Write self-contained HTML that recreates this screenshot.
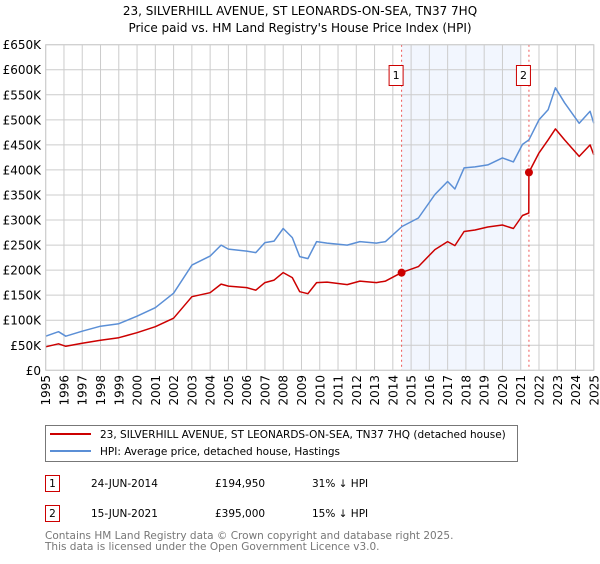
<!DOCTYPE html>
<html><head><meta charset="utf-8">
<style>
body{margin:0;background:#fff;font-family:"DejaVu Sans","Liberation Sans",sans-serif;}
svg text{font-family:"DejaVu Sans","Liberation Sans",sans-serif;}
</style></head>
<body>
<svg id="chart" width="600" height="560" xmlns="http://www.w3.org/2000/svg">
<text x="300" y="15" font-size="12" text-anchor="middle" fill="#000">23, SILVERHILL AVENUE, ST LEONARDS-ON-SEA, TN37 7HQ</text>
<text x="300" y="32" font-size="12" text-anchor="middle" fill="#000">Price paid vs. HM Land Registry's House Price Index (HPI)</text>
<g id="plot"></g>
<g>
<rect x="45.5" y="425.5" width="472" height="36" fill="#fff" stroke="#777"/>
<line x1="50" y1="434" x2="91" y2="434" stroke="#cc0000" stroke-width="2"/>
<text x="100" y="438" font-size="10.5">23, SILVERHILL AVENUE, ST LEONARDS-ON-SEA, TN37 7HQ (detached house)</text>
<line x1="50" y1="451" x2="91" y2="451" stroke="#5b8fd6" stroke-width="2"/>
<text x="100" y="455" font-size="10.5">HPI: Average price, detached house, Hastings</text>
</g>
<g font-size="10.5">
<rect x="45.5" y="475.5" width="14" height="16" fill="#fff" stroke="#cc0000"/>
<text x="52.5" y="487" text-anchor="middle">1</text>
<text x="91" y="487">24-JUN-2014</text>
<text x="215" y="487">£194,950</text>
<text x="312" y="487">31% ↓ HPI</text>
<rect x="45.5" y="505.5" width="14" height="16" fill="#fff" stroke="#cc0000"/>
<text x="52.5" y="517" text-anchor="middle">2</text>
<text x="91" y="517">15-JUN-2021</text>
<text x="215" y="517">£395,000</text>
<text x="312" y="517">15% ↓ HPI</text>
</g>
<text x="45" y="539" font-size="10.5" fill="#777">Contains HM Land Registry data © Crown copyright and database right 2025.</text>
<text x="45" y="550" font-size="10.5" fill="#777">This data is licensed under the Open Government Licence v3.0.</text>
</svg>
<script>
const yTicks=[0,50,100,150,200,250,300,350,400,450,500,550,600,650];
const yTickLabels=["£0","£50K","£100K","£150K","£200K","£250K","£300K","£350K","£400K","£450K","£500K","£550K","£600K","£650K"];
const xYears=[1995,1996,1997,1998,1999,2000,2001,2002,2003,2004,2005,2006,2007,2008,2009,2010,2011,2012,2013,2014,2015,2016,2017,2018,2019,2020,2021,2022,2023,2024,2025];
const hpiDates=[1995.0,1995.7,1996.1,1997,1998,1999,2000,2001,2002,2003,2004,2004.6,2005,2006,2006.5,2007,2007.5,2008.0,2008.5,2008.9,2009.35,2009.83,2010.4,2011.5,2012.2,2013.1,2013.6,2014.5,2015.4,2016.3,2017.0,2017.4,2017.9,2018.5,2019.2,2020.0,2020.6,2021.1,2021.45,2022.0,2022.5,2022.9,2023.4,2024.2,2024.8,2025.0];
const hpiValues=[68,77,68,78,88,93,108,125,154,210,228,250,242,238,235,255,258,283,265,227,223,257,254,250,257,254,257,287,304,351,377,362,404,406,410,424,416,451,460,500,520,564,534,493,517,493];
const propDates=[1995.0,1995.7,1996.1,1997,1998,1999,2000,2001,2002,2003,2004,2004.6,2005,2006,2006.5,2007,2007.5,2008.0,2008.5,2008.9,2009.35,2009.83,2010.4,2011.5,2012.2,2013.1,2013.6,2014.48,2015.4,2016.3,2017.0,2017.4,2017.9,2018.5,2019.2,2020.0,2020.6,2021.1,2021.44,2021.45,2022.0,2022.5,2022.9,2023.4,2024.2,2024.8,2025.0];
const propValues=[47,53,48,54,60,65,75,87,104,147,155,172,168,165,160,175,180,195,185,157,153,175,176,171,178,175,178,194.95,207,241,257,249,277,280,286,290,283,309,314,395,434,460,482,460,427,450,430];
const saleDates=[2014.48,2021.45];
const saleValues=[194.95,395];
const saleLabels=["1","2"];

const NS="http://www.w3.org/2000/svg";
const X0=45.7,X1=593.8,Y0=370.3,Y1=44.7;
function xs(t){return X0+(t-1995)/(2025-1995)*(X1-X0);}
function ys(v){return Y0-(v/650)*(Y0-Y1);}
const plot=document.getElementById('plot');
function mk(tag,attrs,parent){const e=document.createElementNS(NS,tag);for(const k in attrs)e.setAttribute(k,attrs[k]);(parent||plot).appendChild(e);return e;}

const shade=mk('rect',{x:xs(saleDates[0]),y:Y1,width:xs(2021.05)-xs(saleDates[0]),height:Y0-Y1,fill:'#eef3fd',opacity:0.75});



yTicks.forEach((v,i)=>{
 const g=mk('line',{x1:X0,x2:X1,y1:ys(v),y2:ys(v),stroke:'#cccccc','stroke-width':1});
 
 
 const t=mk('text',{x:41,y:ys(v)+4.5,'font-size':12,'text-anchor':'end',fill:'#000'});
 t.textContent=yTickLabels[i];
 
 
});
xYears.forEach(yr=>{
 const g=mk('line',{x1:xs(yr),x2:xs(yr),y1:Y1,y2:Y0,stroke:'#cccccc','stroke-width':1});
 
 
 const t=mk('text',{x:0,y:0,'font-size':12,'text-anchor':'end',fill:'#000',transform:`translate(${xs(yr)+4.5},375) rotate(-90)`});
 t.textContent=String(yr);
 
 
});

saleDates.forEach((d,i)=>{
 const l=mk('line',{x1:xs(d),x2:xs(d),y1:Y1,y2:Y0,stroke:'#ee5555','stroke-width':1,'stroke-dasharray':'2,3'});
 
 
 const b=mk('rect',{x:xs(d)-12.5,y:65.5,width:14,height:20,fill:'#fff',stroke:'#cc0000'});
 
 
 const t=mk('text',{x:xs(d)-5.5,y:79,'font-size':11,'text-anchor':'middle',fill:'#000'});
 t.textContent=saleLabels[i];
 
 
});

function path(dates,vals){return dates.map((d,i)=>(i?'L':'M')+xs(d).toFixed(1)+','+ys(vals[i]).toFixed(1)).join(' ');}
const hp=mk('path',{d:path(hpiDates,hpiValues),fill:'none',stroke:'#5b8fd6','stroke-width':1.5,'stroke-linejoin':'round'});


const pp=mk('path',{d:path(propDates,propValues),fill:'none',stroke:'#cc0000','stroke-width':1.5,'stroke-linejoin':'round'});


saleDates.forEach((d,i)=>{
 const c=mk('circle',{cx:xs(d),cy:ys(saleValues[i]),r:4,fill:'#cc0000'});
 
 
});
const border=mk('rect',{x:X0,y:Y1,width:X1-X0,height:Y0-Y1,fill:'none',stroke:'#cccccc'});


</script>
</body></html>
